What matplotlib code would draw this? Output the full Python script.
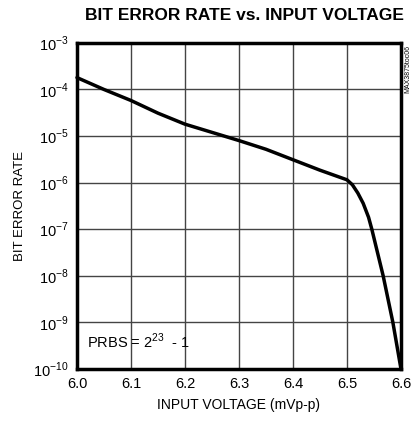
import numpy as np
import matplotlib
matplotlib.use("Agg")
import matplotlib.pyplot as plt
from matplotlib import font_manager

names = {f.name for f in font_manager.fontManager.ttflist}
font = "Liberation Sans Narrow" if "Liberation Sans Narrow" in names else "Liberation Sans"
plt.rcParams['font.family'] = [font, 'DejaVu Sans']
plt.rcParams['mathtext.fontset'] = 'custom'
plt.rcParams['mathtext.rm'] = font

# data
voltage = [6.0, 6.05, 6.1, 6.15, 6.2, 6.25, 6.3, 6.35, 6.4, 6.45, 6.5,
           6.51, 6.52, 6.53, 6.54, 6.546, 6.567, 6.585, 6.6]
ber = [1.8e-4, 1.0e-4, 5.8e-5, 3.1e-5, 1.8e-5, 1.2e-5, 8e-6, 5.2e-6, 3.1e-6, 1.85e-6, 1.15e-6,
       9e-7, 6e-7, 3.6e-7, 1.8e-7, 1e-7, 1e-8, 1e-9, 1e-10]
xticks = [6.0, 6.1, 6.2, 6.3, 6.4, 6.5, 6.6]
ydecades = [-10, -9, -8, -7, -6, -5, -4, -3]

fig = plt.figure(figsize=(4.15, 4.29), dpi=100)
ax = fig.add_axes([0.1855, 0.14, 0.7807, 0.76])

ax.set_yscale('log')
ax.set_xlim(6.0, 6.6)
ax.set_ylim(1e-10, 1e-3)
ax.set_xticks(xticks)
ax.set_xticklabels([f"{v:.1f}" for v in xticks])
ax.set_yticks([10.0 ** d for d in ydecades])
ax.set_yticklabels([f"$10^{{{d}}}$" for d in ydecades])
ax.yaxis.set_minor_locator(matplotlib.ticker.NullLocator())
ax.tick_params(length=0, labelsize=10.5, pad=6)
ax.grid(True, color='#444444', lw=1.0)
for s in ax.spines.values():
    s.set_linewidth(2.5)

ax.plot(voltage, ber, color='black', lw=2.5, solid_capstyle='round', clip_on=False)

ax.set_xlabel("INPUT VOLTAGE (mVp-p)", fontsize=10, labelpad=5)
ax.set_ylabel("BIT ERROR RATE", fontsize=9.5, labelpad=5)
fig.text(0.59, 0.965, "BIT ERROR RATE vs. INPUT VOLTAGE", ha='center', va='center',
         fontsize=12.5, fontweight='bold')
ax.text(0.03, 0.055, "PRBS = $2^{23}$  - 1", transform=ax.transAxes, fontsize=10.5,
        ha='left', va='bottom')
fig.text(0.982, 0.895, "MAX3875toc06", rotation=90, ha='center', va='top', fontsize=5)

fig.savefig("out.png", dpi=100)
